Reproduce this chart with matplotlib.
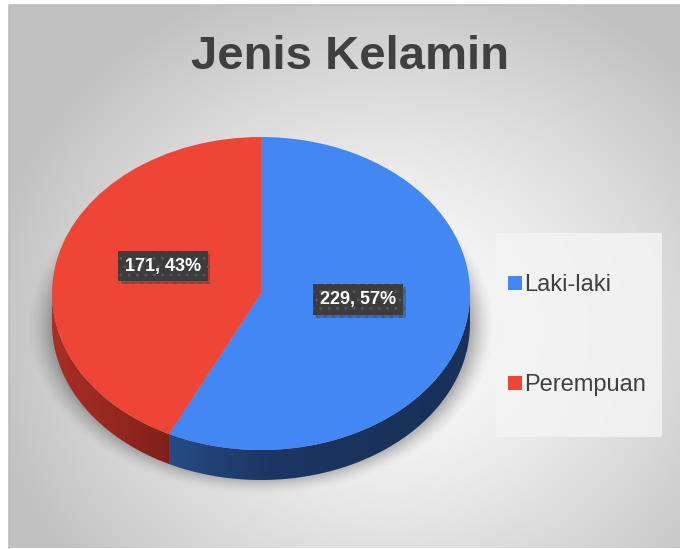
import numpy as np
import matplotlib
matplotlib.use("Agg")
import matplotlib.pyplot as plt
from matplotlib.colors import LinearSegmentedColormap
from matplotlib.lines import Line2D
from matplotlib.patches import Polygon
import matplotlib.patheffects as pe

plt.rcParams['font.family'] = ['Liberation Sans', 'DejaVu Sans']

# data
categories = ["Laki-laki", "Perempuan"]
counts = [229, 171]
top_colors = ["#4287f3", "#ef4537"]
title = "Jenis Kelamin"

W, H = 680, 549
fig = plt.figure(figsize=(W / 100, H / 100), dpi=100)

# background: white margin + radial gray gradient chart area
bg = fig.add_axes([0, 0, 1, 1])
bg.set_xlim(0, W)
bg.set_ylim(H, 0)
bg.axis("off")
yy, xx = np.mgrid[5:548, 9:680]
r = np.sqrt(((xx - 390) / 420.0) ** 2 + ((yy - 330) / 380.0) ** 2)
g = np.clip(1.0 - 0.25 * r ** 1.3, 0.76, 1.0)
bg.imshow(np.dstack([g, g, g]), extent=(9, 680, 548, 5), aspect="auto", zorder=0)
bg.plot([9, 9, 680], [548, 5, 5], color="#bdbdbd", lw=1.2, zorder=1)

bg.text(350, 57, title, ha="center", va="center", fontsize=34,
        fontweight="bold", color="#404040")

# pie axes: unit circle maps to the top ellipse
cx, cy, rx, ry = 261, 293.5, 209, 156.5
px0, px1, pyt, pyb = 30, 492, 120, 510
ax = fig.add_axes([px0 / W, (H - pyb) / H, (px1 - px0) / W, (pyb - pyt) / H])
ax.patch.set_alpha(0)
depth = 30 / ry

# soft shadow under the pie
sy, sx = np.mgrid[-1.38:1.1:400j, -1.12:1.12:400j]
sr = np.sqrt((sx / 1.04) ** 2 + ((sy + depth + 0.02) / 1.0) ** 2)
salpha = 0.45 * np.clip((1.08 - sr) / 0.11, 0, 1) ** 1.5
shadow = np.zeros(sx.shape + (4,))
shadow[..., :3] = 0.35
shadow[..., 3] = salpha
ax.imshow(shadow, extent=(-1.12, 1.12, -1.38, 1.1), origin="lower",
          aspect="auto", zorder=1)

# top face
wedges, _ = ax.pie(counts, colors=top_colors, startangle=90,
                   counterclock=False, radius=1.0,
                   wedgeprops=dict(linewidth=0, zorder=3))

# side walls (visible front half only)
fracs = np.array(counts) / sum(counts)
bounds = np.concatenate([[0], np.cumsum(fracs) * 360])
side_cmaps = [
    LinearSegmentedColormap.from_list("b", ["#264b84", "#1b3663", "#19335d", "#18315a"]),
    LinearSegmentedColormap.from_list("r", ["#a92e24", "#962820", "#7e2019"]),
]
for i in range(len(counts)):
    a0 = max(bounds[i], 90)
    a1 = min(bounds[i + 1], 270)
    if a1 <= a0:
        continue
    th = np.radians(np.linspace(a0, a1, 100))
    xs, ys = np.sin(th), np.cos(th)
    pts = np.vstack([np.column_stack([xs, ys]),
                     np.column_stack([xs[::-1], ys[::-1] - depth])])
    poly = Polygon(pts, closed=True, fc="none", ec="none")
    ax.add_patch(poly)
    xmin, xmax = xs.min(), xs.max()
    grad = np.linspace(0, 1, 256)[None, :]
    im = ax.imshow(grad, cmap=side_cmaps[i], extent=(xmin, xmax, -1 - depth, 0),
                   aspect="auto", zorder=2)
    im.set_clip_path(poly)

ax.set_aspect("auto")
ax.set_xlim((px0 - cx) / rx, (px1 - cx) / rx)
ax.set_ylim((cy - pyb) / ry, (cy - pyt) / ry)
ax.axis("off")

# data labels
label_pos = [(0.466, -0.04), (-0.47, 0.175)]
for n, f, (lx, ly) in zip(counts, fracs, label_pos):
    t = ax.text(lx, ly, f"{n}, {f * 100:.0f}%", ha="center", va="center",
                fontsize=13, fontweight="bold", color="white", zorder=6,
                bbox=dict(boxstyle="square,pad=0.38", fc="#3c3c3c",
                          ec="#555555", lw=0, hatch=".."))
    t.get_bbox_patch().set_path_effects(
        [pe.SimplePatchShadow(offset=(2, -2), alpha=0.25), pe.Normal()])

# legend
bg.add_patch(plt.Rectangle((496, 233), 166, 204, fc="#f4f4f4", ec="none",
                           alpha=0.85, zorder=2))
handles = [Line2D([], [], marker="s", ls="none", markersize=9.5,
                  markerfacecolor=c, markeredgewidth=0) for c in top_colors]
leg = fig.legend(handles, categories, loc="center left",
                 bbox_to_anchor=(496 / W, (H - 335) / H), frameon=False,
                 fontsize=17, labelspacing=3.3, handlelength=0.6,
                 handletextpad=0.1, borderpad=0, labelcolor="#404040")

fig.savefig("out.png", dpi=100)
